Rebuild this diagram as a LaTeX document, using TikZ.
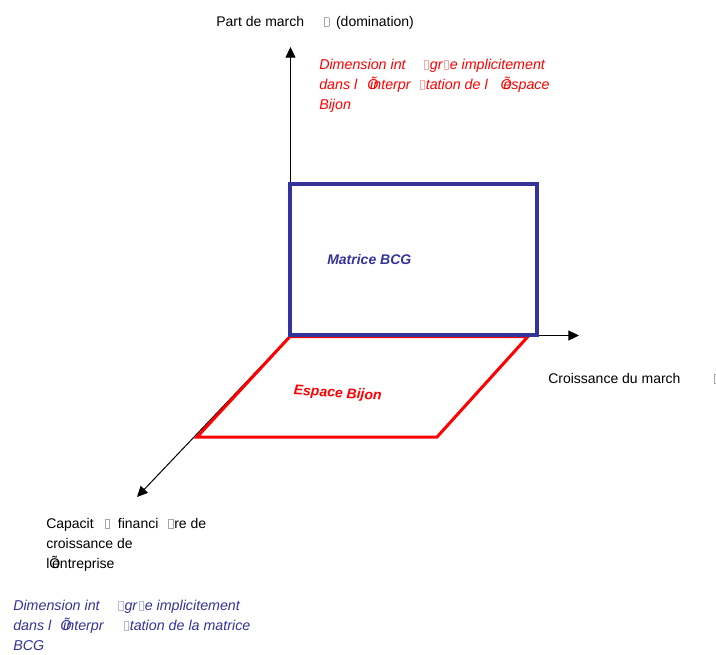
\documentclass[tikz,border=0pt]{standalone}
\usepackage{fontspec}
\setmainfont{Liberation Sans}
\usepackage{xcolor}
\usetikzlibrary{arrows.meta}
\definecolor{bcgblue}{HTML}{333399}
\definecolor{bijred}{HTML}{FF0000}
% missing glyph box and overlapping apostrophe of the original
\newcommand\bx{{\setlength\fboxsep{0pt}\setlength\fboxrule{0.45pt}\color{.!35}\fbox{\rule{0pt}{6pt}\hspace{3pt}}}}
\newcommand\ap{\rlap{Õ}\kern0.2em}

\begin{document}
\begin{tikzpicture}[x=0.75pt, y=-0.75pt,
  axis/.style={line width=0.75pt, -{Triangle[length=8pt, width=7.5pt]}},
  bcg/.style={draw=bcgblue, line width=3pt},
  bij/.style={draw=bijred, line width=2.25pt, line join=miter},
  lab/.style={font=\fontsize{10.5}{15}\selectfont, inner sep=0pt, anchor=base west, align=left},
  note/.style={lab, font=\fontsize{10.7}{15}\selectfont\itshape}]
\useasboundingbox (0,0) rectangle (716,654);
\coordinate (o) at (290.5,335.5);
\coordinate (ytip) at (290.5,47);
\coordinate (xtip) at (579,335.5);
\coordinate (ztip) at (137,497);
\draw[axis] (o) -- (ytip);
\draw[axis] (o) -- (xtip);
\draw[axis] (o) -- (ztip);
\draw[bij] (290,336.5) -- (528,336.5) -- (437,437) -- (197,437) -- cycle;
\draw[bcg] (290,184) rectangle (537,335);
% multi-line nodes: base is the last line
\node[lab] (ylab) at (216,26) {Part de march\hspace{15pt}\bx\hspace{5pt}(domination)};
\node[lab] (xlab) at (548,383) {Croissance du march\hspace{24.75pt}\bx};
\node[lab] (zlab) at (46,568) {Capacit\hspace{8.25pt}\bx\hspace{6pt}financi\hspace{7.5pt}\bx\kern0.5pt re de\\croissance de\\l\ap entreprise};
\node[note, text=bijred] (bijnote) at (319,109) {Dimension int\hspace{13.5pt}\bx\kern0.75pt gr\kern0.75pt\bx\kern0.75pt e implicitement\\dans l\hspace{7.5pt}\ap interpr\hspace{6.75pt}\bx\kern0.75pt tation de l\hspace{9.75pt}\ap espace\\Bijon};
\node[note, text=bcgblue] (bcgnote) at (13,650) {Dimension int\hspace{14pt}\bx\kern0.75pt gr\kern1pt\bx\kern0.75pt e implicitement\\dans l\hspace{6.75pt}\ap interpr\hspace{15pt}\bx\kern0.75pt tation de la matrice\\BCG};
\node[lab, text=bcgblue, font=\fontsize{10.5}{15}\selectfont\bfseries\itshape] (bcg) at (327,264) {Matrice BCG};
\node[lab, anchor=base, text=bijred, font=\fontsize{10.5}{15}\selectfont\bfseries\itshape, rotate=-3.3] (bij) at (337.5,397.5) {Espace Bijon};
\end{tikzpicture}
\end{document}
